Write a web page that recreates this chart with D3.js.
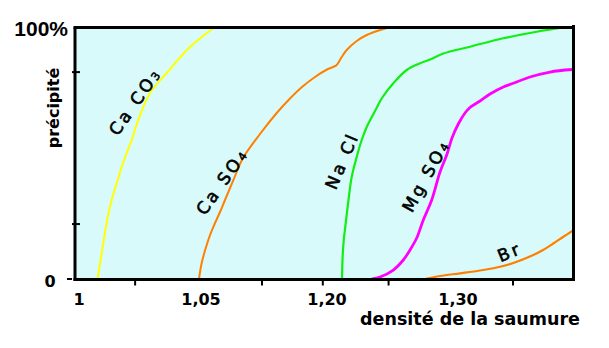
<!DOCTYPE html>
<html>
<head>
<meta charset="utf-8">
<script src="https://cdn.jsdelivr.net/npm/d3@7/dist/d3.min.js"></script>
<style>
  html, body { margin: 0; padding: 0; background: #ffffff; }
  svg { display: block; }
</style>
</head>
<body>
<svg id="chart" width="609" height="348"></svg>
<script>
// Brine density (x) and percentage of each salt precipitated (y)
const caco3Density = [1.00758, 1.00902, 1.01037, 1.01176, 1.01340, 1.01545, 1.01750, 1.01955, 1.02160, 1.02430, 1.02910, 1.03594, 1.04549, 1.06667];
const caco3Pct     = [0, 8.73, 16.67, 24.60, 31.35, 38.10, 44.44, 50.0, 55.16, 63.10, 73.81, 81.75, 92.06, 100];

const caso4Density = [1.04918, 1.05083, 1.05869, 1.06464, 1.07262, 1.07857, 1.08810, 1.10000, 1.12024, 1.14012, 1.15595, 1.17024, 1.18571, 1.20000, 1.20458, 1.20740, 1.21122, 1.21504, 1.22267, 1.23031, 1.24046, 1.24809];
const caso4Pct     = [0, 6.35, 15.48, 20.63, 26.59, 31.35, 38.89, 48.02, 57.54, 65.87, 71.63, 76.19, 80.16, 83.13, 84.13, 84.92, 88.10, 90.87, 94.44, 96.83, 98.81, 100];

const naclDensity = [1.21145, 1.21183, 1.21260, 1.21412, 1.21641, 1.21885, 1.22267, 1.22649, 1.23031, 1.23664, 1.24198, 1.25061, 1.26084, 1.27099, 1.27863, 1.28878, 1.30916, 1.33458, 1.36008, 1.38244];
const naclPct     = [0, 7.54, 14.29, 21.43, 31.35, 40.48, 48.41, 55.16, 60.32, 66.67, 71.83, 77.66, 82.94, 85.60, 87.10, 89.48, 92.18, 95.52, 98.13, 100];

const mgso4Density = [1.23435, 1.24046, 1.25061, 1.25824, 1.26336, 1.26847, 1.27351, 1.27992, 1.28626, 1.29137, 1.29542, 1.30023, 1.30534, 1.30916, 1.31679, 1.32443, 1.33458, 1.34221, 1.35496, 1.37023, 1.38702];
const mgso4Pct     = [0, 0.79, 3.57, 7.54, 11.51, 16.27, 23.41, 31.35, 42.46, 49.21, 55.95, 61.51, 65.87, 68.06, 70.63, 73.41, 76.19, 77.66, 80.16, 82.14, 83.13];

const brDensity = [1.27481, 1.28626, 1.30153, 1.31679, 1.32695, 1.34221, 1.35748, 1.36489, 1.37275, 1.38015, 1.38779];
const brPct     = [0, 1.19, 2.26, 3.37, 4.25, 6.35, 9.52, 11.51, 14.09, 16.67, 19.25];

// Axis ticks
const xTickValues = [1, 1.05, 1.20, 1.30];
const xTickLabels = ["1", "1,05", "1,20", "1,30"];
const xMinorTicks = [1.023, 1.1226, 1.195, 1.247, 1.342];
const yTickValues = [21.8, 82.1];
const yTickLabels = ["0", "100%"];

const svg = d3.select("#chart");

// Plot frame
const frameLeft = 75, frameRight = 573.5, frameTop = 27.5, frameBottom = 279.5;

// Piecewise density scale (the axis is not evenly spaced)
const x = d3.scaleLinear()
  .domain([1, 1.05, 1.20, 1.30])
  .range([79, 201, 327, 458]);
const y = d3.scaleLinear().domain([0, 100]).range([279, 27]);

svg.append("defs").append("clipPath").attr("id", "plotClip")
  .append("rect").attr("x", frameLeft).attr("y", frameTop)
  .attr("width", frameRight - frameLeft).attr("height", frameBottom - frameTop);

svg.append("rect")
  .attr("x", frameLeft).attr("y", frameTop)
  .attr("width", frameRight - frameLeft).attr("height", frameBottom - frameTop)
  .attr("fill", "#d9fafa");

const series = [
  { name: "CaCO3", xs: caco3Density, ys: caco3Pct, color: "#ffff00", width: 2 },
  { name: "CaSO4", xs: caso4Density, ys: caso4Pct, color: "#ff8000", width: 2 },
  { name: "NaCl",  xs: naclDensity,  ys: naclPct,  color: "#11ee11", width: 2.2 },
  { name: "MgSO4", xs: mgso4Density, ys: mgso4Pct, color: "#ff00ff", width: 2.8 },
  { name: "Br",    xs: brDensity,    ys: brPct,    color: "#ff8000", width: 2.2 }
];

const line = d3.line()
  .x(d => x(d[0]))
  .y(d => y(d[1]))
  .curve(d3.curveCatmullRom.alpha(0.5));

svg.append("g").attr("clip-path", "url(#plotClip)")
  .selectAll("path")
  .data(series)
  .join("path")
  .attr("d", s => line(s.xs.map((v, i) => [v, s.ys[i]])))
  .attr("fill", "none")
  .attr("stroke", s => s.color)
  .attr("stroke-width", s => s.width)
  .attr("stroke-linejoin", "round");

// Frame lines
const frame = svg.append("g").attr("stroke", "#000").attr("stroke-width", 3);
frame.append("line").attr("x1", frameLeft - 1.5).attr("x2", frameRight + 1.5).attr("y1", frameTop).attr("y2", frameTop);
frame.append("line").attr("x1", frameLeft).attr("x2", frameLeft).attr("y1", frameTop).attr("y2", frameBottom + 1.5);
frame.append("line").attr("x1", frameLeft - 1.5).attr("x2", frameRight + 1.5).attr("y1", frameBottom).attr("y2", frameBottom);
frame.append("line").attr("x1", frameRight).attr("x2", frameRight).attr("y1", frameTop - 2.5).attr("y2", frameBottom);

// Y ticks crossing the left edge
svg.append("g").selectAll("line")
  .data(yTickValues)
  .join("line")
  .attr("x1", 72).attr("x2", 80)
  .attr("y1", d => y(d)).attr("y2", d => y(d))
  .attr("stroke", "#000").attr("stroke-width", 2);

// small dash beside the zero label
svg.append("line")
  .attr("x1", 67).attr("x2", 72)
  .attr("y1", y(0)).attr("y2", y(0))
  .attr("stroke", "#000").attr("stroke-width", 2);

// X minor ticks below the axis
svg.append("g").selectAll("line")
  .data(xMinorTicks)
  .join("line")
  .attr("x1", d => x(d)).attr("x2", d => x(d))
  .attr("y1", frameBottom + 1).attr("y2", frameBottom + 6)
  .attr("stroke", "#000").attr("stroke-width", 2);

// X tick labels
svg.append("g").selectAll("text")
  .data(xTickValues)
  .join("text")
  .attr("x", d => x(d))
  .attr("y", 305)
  .attr("text-anchor", "middle")
  .attr("font-family", "DejaVu Sans")
  .attr("font-weight", "bold")
  .attr("font-size", 16)
  .text((d, i) => xTickLabels[i]);

// Y labels
svg.append("text")
  .attr("x", 68).attr("y", 36)
  .attr("text-anchor", "end")
  .attr("font-family", "Liberation Sans")
  .attr("font-weight", "bold")
  .attr("font-size", 21)
  .text(yTickLabels[1]);

svg.append("text")
  .attr("x", 50).attr("y", 287)
  .attr("text-anchor", "middle")
  .attr("font-family", "DejaVu Sans")
  .attr("font-weight", "bold")
  .attr("font-size", 16)
  .text(yTickLabels[0]);

// Axis titles
svg.append("text")
  .attr("transform", "translate(59,108) rotate(-90)")
  .attr("text-anchor", "middle")
  .attr("font-family", "DejaVu Sans")
  .attr("font-weight", "bold")
  .attr("font-size", 16)
  .text("précipité");

svg.append("text")
  .attr("x", 470).attr("y", 325)
  .attr("text-anchor", "middle")
  .attr("font-family", "DejaVu Sans")
  .attr("font-weight", "bold")
  .attr("font-size", 17.5)
  .text("densité de la saumure");

// Curve labels, written along each curve
const curveLabels = [
  { main: "Ca CO", sub: "3", cx: 136, cy: 102, angle: -55 },
  { main: "Ca SO", sub: "4", cx: 223, cy: 182, angle: -55 },
  { main: "Na Cl", sub: "",  cx: 343, cy: 161, angle: -67 },
  { main: "Mg SO", sub: "4", cx: 427, cy: 176, angle: -61 },
  { main: "Br",    sub: "",  cx: 510, cy: 253, angle: -22 }
];

const lbl = svg.append("g").selectAll("text")
  .data(curveLabels)
  .join("text")
  .attr("transform", d => `translate(${d.cx},${d.cy}) rotate(${d.angle})`)
  .attr("text-anchor", "middle")
  .attr("dominant-baseline", "middle")
  .attr("font-family", "DejaVu Sans")
  .attr("font-size", 17)
  .attr("letter-spacing", 3)
  .attr("fill", "#000")
  .attr("stroke", "#000")
  .attr("stroke-width", 0.6);

lbl.append("tspan").text(d => d.main);
lbl.append("tspan")
  .attr("font-size", 11)
  .attr("dy", 2)
  .text(d => d.sub);
</script>
</body>
</html>
